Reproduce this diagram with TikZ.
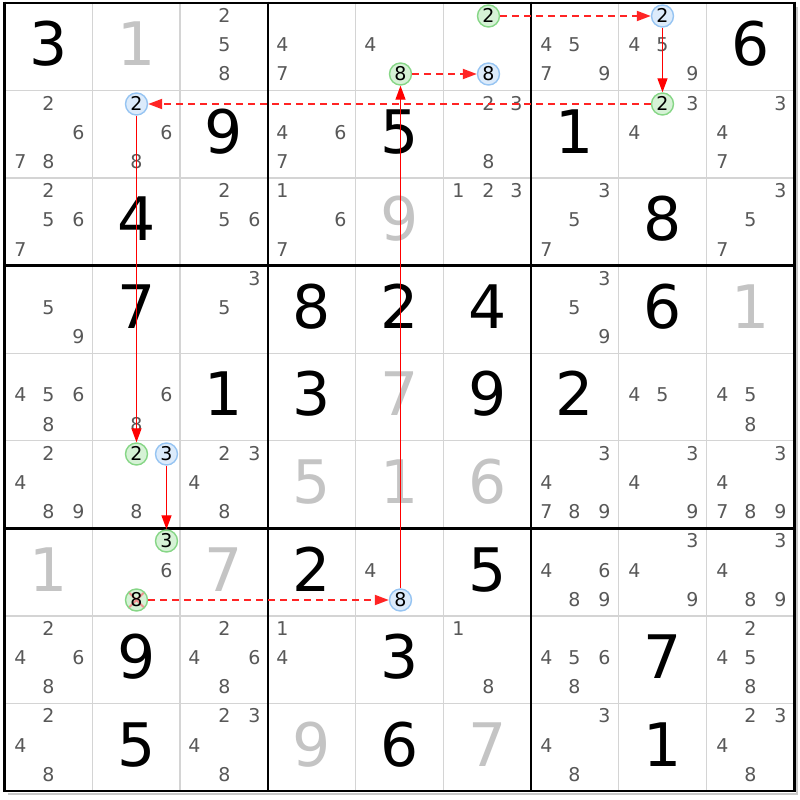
\documentclass[tikz,border=0pt]{standalone}
\usepackage{fontspec}
\setmainfont{DejaVu Sans}
\usetikzlibrary{arrows.meta}
\definecolor{candc}{HTML}{585858}
\definecolor{solvc}{HTML}{C4C4C4}
\definecolor{gridc}{HTML}{D4D4D4}
\definecolor{gfill}{HTML}{D6F2D6}
\definecolor{gline}{HTML}{86D686}
\definecolor{bfill}{HTML}{DCEBFB}
\definecolor{bline}{HTML}{96C4F2}
\definecolor{arrc}{HTML}{FF0000}
\definecolor{dashc}{HTML}{FF2424}
\definecolor{shadc}{HTML}{C8C8C8}
\definecolor{crossc}{HTML}{F09090}
\newcommand\setcand[3]{\pgfmathsetmacro\cpx{2*round((4.5+(#2-1)*87.75+(mod(#3-1,3)+0.5)*29.25)/2)+0.5}\pgfmathsetmacro\cpy{floor(3+(#1-1)*87.55+(floor((#3-1)/3)+0.5)*29.1833)+0.5}}
\newcommand\setcell[2]{\pgfmathsetmacro\cpx{4.5+(#2-0.5)*87.75}\pgfmathsetmacro\cpy{3+(#1-0.5)*87.55}}
\tikzset{
  cand/.style={inner sep=0pt, text height=13.8bp, text depth=0pt, font=\fontsize{19bp}{19bp}\selectfont, text=candc, yshift=1.5bp},
  bigd/.style={inner sep=0pt, text height=44bp, text depth=0pt, font=\fontsize{60bp}{60bp}\selectfont, yshift=3bp},
  givenc/.style={bigd, text=black},
  solved/.style={bigd, text=solvc},
  circbase/.style={circle, line width=1.4bp, minimum size=22bp, inner sep=0pt, text height=13.8bp, text depth=0pt, font=\fontsize{19bp}{19bp}\selectfont, text=black, yshift=1.5bp},
  circg/.style={circbase, draw=gline, fill=gfill},
  circb/.style={circbase, draw=bline, fill=bfill},
  crossed/.style={path picture={\draw[crossc, line width=2bp] (path picture bounding box.north west) -- (path picture bounding box.south east) (path picture bounding box.north east) -- (path picture bounding box.south west);}},
  solidarrow/.style={draw=arrc, line width=1.3bp, -{Triangle[length=14bp,width=10bp]}},
  dasharrow/.style={draw=dashc, line width=2bp, dash pattern=on 7bp off 5bp, -{Triangle[length=14bp,width=10bp]}},
  thinline/.style={draw=gridc, line width=1.3bp},
  thickline/.style={draw=black, line width=2.5bp},
  shadowline/.style={draw=shadc, line width=2bp}
}
\begin{document}
\begin{tikzpicture}[x=1bp,y=-1bp]
\useasboundingbox (0,0) rectangle (800,800);
\fill[white] (0,0) rectangle (800,800);
% thin grid lines
\foreach \i in {1,2,4,5,7,8}{
  \draw[thinline] ({4.5+\i*87.75},3) -- ({4.5+\i*87.75},790.95);
  \draw[thinline] (4.5,{3+\i*87.55}) -- (794.25,{3+\i*87.55});
}
% shadow
\draw[shadowline] (8,793.5) -- (796.75,793.5) -- (796.75,7);
% thick lines
\foreach \i in {0,3,6,9}{
  \draw[thickline] ({4.5+\i*87.75},1.75) -- ({4.5+\i*87.75},792.2);
  \draw[thickline] (3.25,{3+\i*87.55}) -- (795.5,{3+\i*87.55});
}
% big digits
\foreach \r/\c/\d/\s in {
  1/1/3/givenc, 1/2/1/solved, 1/9/6/givenc,
  2/3/9/givenc, 2/5/5/givenc, 2/7/1/givenc,
  3/2/4/givenc, 3/5/9/solved, 3/8/8/givenc,
  4/2/7/givenc, 4/4/8/givenc, 4/5/2/givenc, 4/6/4/givenc, 4/8/6/givenc, 4/9/1/solved,
  5/3/1/givenc, 5/4/3/givenc, 5/5/7/solved, 5/6/9/givenc, 5/7/2/givenc,
  6/4/5/solved, 6/5/1/solved, 6/6/6/solved,
  7/1/1/solved, 7/3/7/solved, 7/4/2/givenc, 7/6/5/givenc,
  8/2/9/givenc, 8/5/3/givenc, 8/8/7/givenc,
  9/2/5/givenc, 9/4/9/solved, 9/5/6/givenc, 9/6/7/solved, 9/8/1/givenc}{
  \setcell{\r}{\c}
  \node[\s] (big-\r-\c) at (\cpx,\cpy) {\d};
}
% candidates
\foreach \r/\c/\ds in {
  1/3/{2,5,8}, 1/4/{4,7}, 1/5/{4}, 1/7/{4,5,7,9}, 1/8/{4,5,9},
  2/1/{2,6,7,8}, 2/2/{6,8}, 2/4/{4,6,7}, 2/6/{2,3,8}, 2/8/{3,4}, 2/9/{3,4,7},
  3/1/{2,5,6,7}, 3/3/{2,5,6}, 3/4/{1,6,7}, 3/6/{1,2,3}, 3/7/{3,5,7}, 3/9/{3,5,7},
  4/1/{5,9}, 4/3/{3,5}, 4/7/{3,5,9},
  5/1/{4,5,6,8}, 5/2/{6,8}, 5/8/{4,5}, 5/9/{4,5,8},
  6/1/{2,4,8,9}, 6/2/{8}, 6/3/{2,3,4,8}, 6/7/{3,4,7,8,9}, 6/8/{3,4,9}, 6/9/{3,4,7,8,9},
  7/2/{6}, 7/5/{4}, 7/7/{4,6,8,9}, 7/8/{3,4,9}, 7/9/{3,4,8,9},
  8/1/{2,4,6,8}, 8/3/{2,4,6,8}, 8/4/{1,4}, 8/6/{1,8}, 8/7/{4,5,6,8}, 8/9/{2,4,5,8},
  9/1/{2,4,8}, 9/3/{2,3,4,8}, 9/7/{3,4,8}, 9/9/{2,3,4,8}}{
  \foreach \d in \ds {
    \setcand{\r}{\c}{\d}
    \node[cand] (cand-\r-\c-\d) at (\cpx,\cpy) {\d};
  }
}
% circled candidates
\setcand{1}{5}{8}\node[circg] (g1) at (\cpx,\cpy) {8};
\setcand{1}{6}{8}\node[circb] (b1) at (\cpx,\cpy) {8};
\setcand{1}{6}{2}\node[circg] (g2) at (\cpx,\cpy) {2};
\setcand{1}{8}{2}\node[circb] (b2) at (\cpx,\cpy) {2};
\setcand{2}{8}{2}\node[circg] (g3) at (\cpx,\cpy) {2};
\setcand{2}{2}{2}\node[circb] (b3) at (\cpx,\cpy) {2};
\setcand{6}{2}{2}\node[circg] (g4) at (\cpx,\cpy) {2};
\setcand{6}{2}{3}\node[circb] (b4) at (\cpx,\cpy) {3};
\setcand{7}{2}{3}\node[circg] (g5) at (\cpx,\cpy) {3};
\setcand{7}{2}{8}\node[circg, crossed] (g6) at (\cpx,\cpy) {8};
\setcand{7}{5}{8}\node[circb] (b5) at (\cpx,\cpy) {8};
% chain arrows
\draw[dasharrow] (g2) -- (b2);
\draw[solidarrow] (b2) -- (g3);
\draw[dasharrow] (g3) -- (b3);
\draw[solidarrow] (b3) -- (g4);
\draw[solidarrow] (b4) -- (g5);
\draw[dasharrow] (g6) -- (b5);
\draw[solidarrow] (b5) -- (g1);
\draw[dasharrow] (g1) -- (b1);
\end{tikzpicture}
\end{document}
